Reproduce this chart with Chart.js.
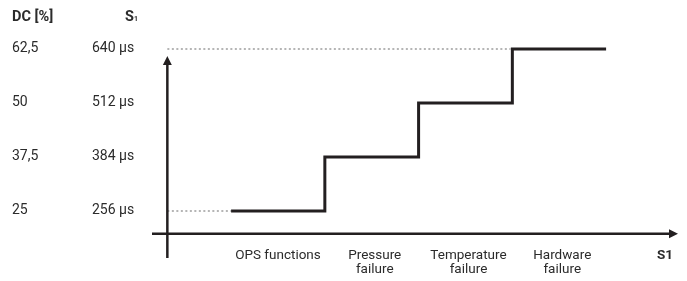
<!DOCTYPE html>
<html>
<head>
<meta charset="utf-8">
<script src="https://cdn.jsdelivr.net/npm/chart.js@4/dist/chart.umd.min.js"></script>
<style>
  html, body { margin: 0; padding: 0; background: #fff; }
  #wrap { width: 687px; height: 281px; }
</style>
</head>
<body>
<div id="wrap"><canvas id="chart" width="687" height="281"></canvas></div>
<script>
// categories along S1 and the duty cycle each one sets
const categories = [["OPS functions"], ["Pressure", "failure"], ["Temperature", "failure"], ["Hardware", "failure"]];
const dcLevels = [25, 37.5, 50, 62.5];
const dcLabels = ["25", "37,5", "50", "62,5"];
const s1Labels = ["256 µs", "384 µs", "512 µs", "640 µs"];
// step edges in category units (each step spans one category)
const stepEdges = [-0.5, 0.5, 1.5, 2.5, 3.5];
const axisX = -1.18;   // where the vertical axis sits on the x scale
const axisY = 19.7;    // where the horizontal axis sits on the y scale

const ink = "#231f20";
const font = "Roboto, 'Liberation Sans', sans-serif";

// first point of each step, plus the end of the last one
const stepData = stepEdges.map((x, i) => ({ x: x, y: dcLevels[Math.min(i, dcLevels.length - 1)] }));
const topGuide = [{ x: axisX, y: dcLevels[3] }, { x: 2.48, y: dcLevels[3] }];
const lowGuide = [{ x: axisX, y: dcLevels[0] }, { x: stepEdges[0], y: dcLevels[0] }];

const decor = {
  id: "decor",
  afterDatasetsDraw(chart) {
    const ctx = chart.ctx;
    const xs = chart.scales.x, ys = chart.scales.y;
    const ax = xs.getPixelForValue(axisX);
    const ay = ys.getPixelForValue(axisY);
    ctx.save();
    ctx.strokeStyle = ink;
    ctx.fillStyle = ink;
    ctx.lineWidth = 2.5;
    // vertical axis with arrow
    ctx.beginPath();
    ctx.moveTo(ax, 258);
    ctx.lineTo(ax, 64);
    ctx.stroke();
    ctx.beginPath();
    ctx.moveTo(ax, 56);
    ctx.lineTo(ax - 4.5, 65);
    ctx.lineTo(ax + 4.5, 65);
    ctx.closePath();
    ctx.fill();
    // horizontal axis with arrow
    ctx.beginPath();
    ctx.moveTo(152, ay);
    ctx.lineTo(670, ay);
    ctx.stroke();
    ctx.beginPath();
    ctx.moveTo(678, ay);
    ctx.lineTo(669, ay - 4.5);
    ctx.lineTo(669, ay + 4.5);
    ctx.closePath();
    ctx.fill();

    // left label columns
    ctx.fillStyle = "#2b2b2b";
    ctx.textBaseline = "middle";
    ctx.textAlign = "left";
    ctx.font = "bold 14.5px " + font;
    ctx.fillText("DC [%]", 12, 17);
    ctx.fillText("S", 125, 17);
    ctx.font = "bold 7px " + font;
    ctx.fillText("1", 134, 19);
    ctx.font = "14px " + font;
    dcLevels.forEach((v, i) => {
      const py = ys.getPixelForValue(v);
      ctx.fillText(dcLabels[i], 12, py);
      ctx.fillText(s1Labels[i], 92, py);
    });

    // category labels under the axis
    ctx.textAlign = "center";
    ctx.font = "13.5px " + font;
    categories.forEach((lines, i) => {
      const px = xs.getPixelForValue(i) + (i === 0 ? 0 : 3);
      lines.forEach((t, j) => ctx.fillText(t, px, 256 + j * 14));
    });
    ctx.font = "bold 13.5px " + font;
    ctx.fillText("S1", 665, 256);
    ctx.restore();
  }
};

new Chart(document.getElementById("chart"), {
  type: "line",
  data: {
    datasets: [
      { data: topGuide, borderColor: "#b5b5b5", borderWidth: 2, borderDash: [2, 2.5], pointRadius: 0, order: 2 },
      { data: lowGuide, borderColor: "#b5b5b5", borderWidth: 2, borderDash: [2, 2.5], pointRadius: 0, order: 2 },
      { data: stepData, stepped: "before", borderColor: ink, borderWidth: 3, pointRadius: 0, order: 1 }
    ]
  },
  options: {
    responsive: false,
    animation: false,
    clip: false,
    layout: { padding: 0 },
    plugins: { legend: { display: false }, tooltip: { enabled: false } },
    scales: {
      x: { type: "linear", display: false, min: -2.965, max: 4.363 },
      y: { type: "linear", display: false, min: 8.79, max: 73.84 }
    }
  },
  plugins: [decor]
});
</script>
</body>
</html>
